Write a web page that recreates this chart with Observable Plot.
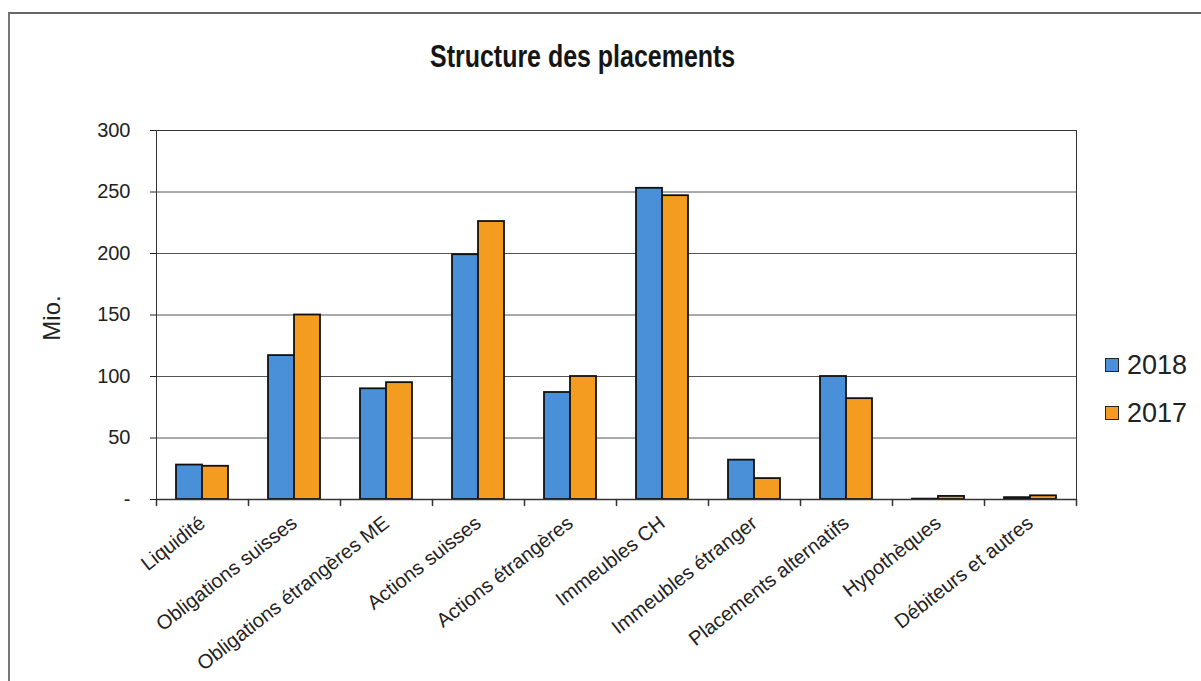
<!DOCTYPE html>
<html><head><meta charset="utf-8">
<script src="https://cdn.jsdelivr.net/npm/d3@7"></script>
<script src="https://cdn.jsdelivr.net/npm/@observablehq/plot@0.6"></script>
<style>
body{margin:0;background:#fff;}
#wrap{position:relative;width:1201px;height:681px;overflow:hidden;font-family:"Liberation Sans",Arial,sans-serif;background:#fff;}
#border{position:absolute;left:8px;top:12px;width:1300px;height:700px;border-left:2px solid #777;border-top:2px solid #666;}
#chart{position:absolute;left:0;top:0;}
#title{position:absolute;top:40px;left:0;width:1165px;text-align:center;line-height:32px;}
#title span{display:inline-block;font-family:"Liberation Sans",Arial,sans-serif;font-weight:bold;font-size:32px;color:#151515;transform:scaleX(0.78);transform-origin:center;}
#ylab{position:absolute;left:52px;top:318px;transform:translate(-50%,-50%) rotate(-90deg);font-size:24px;color:#222;white-space:nowrap;}
#legend{position:absolute;left:1105px;top:341px;}
.item{display:flex;align-items:center;height:48px;}
.sw{width:12px;height:12px;border:1.5px solid #222;margin-right:8px;}
.lab{font-size:27px;color:#222;}
</style></head>
<body><div id="wrap"><div id="border"></div><div id="chart"></div><div id="title"><span>Structure des placements</span></div><div id="ylab">Mio.</div><div id="legend"></div></div>
<script>
const categories = ["Liquidité","Obligations suisses","Obligations étrangères ME","Actions suisses","Actions étrangères","Immeubles CH","Immeubles étranger","Placements alternatifs","Hypothèques","Débiteurs et autres"];
const years = ["2018","2017"];
const values2018 = [28,117,90,199,87,253,32,100,0.3,1.5];
const values2017 = [27,150,95,226,100,247,17,82,2.5,3];
const yTicks = [0,50,100,150,200,250,300];
const colors = ["#4a90d9","#f39c1f"];

const data = categories.flatMap((c,i)=>[
  {category:c, year:years[0], value:values2018[i]},
  {category:c, year:years[1], value:values2017[i]}
]);

const tickShape = {draw(context, l){ context.moveTo(0,0); context.lineTo(0,-l); }};

const chart = Plot.plot({
  width:1201, height:681,
  marginTop:130, marginBottom:182, marginLeft:152, marginRight:121,
  style:{fontFamily:"'Liberation Sans', Arial, sans-serif", fontSize:"20px", color:"#222", background:"transparent"},
  fx:{domain:categories, padding:0, axis:"bottom", label:null, tickRotate:-38, tickSize:0, tickPadding:21},
  x:{domain:years, axis:null, paddingInner:0, paddingOuter:0.72},
  y:{domain:[0,300], ticks:yTicks, tickFormat:d=>d===0?"-":String(d), tickSize:6, tickPadding:20, label:null},
  color:{domain:years, range:colors},
  marks:[
    Plot.ruleY(yTicks.filter(d=>d>0), {stroke:"#555", strokeWidth:1}),
    Plot.barY(data, {fx:"category", x:"year", y:"value", fill:"year", stroke:"#111", strokeWidth:1.8}),
    Plot.ruleY([0], {stroke:"#333", strokeWidth:1.5}),
    Plot.frame({facet:"super", stroke:"#333"}),
    Plot.vector(categories, {fx:d=>d, frameAnchor:"bottom-left", length:6, rotate:180, anchor:"start", shape:tickShape, stroke:"#333"}),
    Plot.vector(categories.slice(-1), {fx:d=>d, frameAnchor:"bottom-right", length:6, rotate:180, anchor:"start", shape:tickShape, stroke:"#333"})
  ]
});
document.getElementById("chart").appendChild(chart);

const cs = chart.scale("color");
const leg = document.getElementById("legend");
years.forEach(y=>{
  const it = document.createElement("div"); it.className="item";
  const sw = document.createElement("div"); sw.className="sw"; sw.style.background = cs.apply(y);
  const lb = document.createElement("span"); lb.className="lab"; lb.textContent = y;
  it.appendChild(sw); it.appendChild(lb); leg.appendChild(it);
});
</script></body></html>
